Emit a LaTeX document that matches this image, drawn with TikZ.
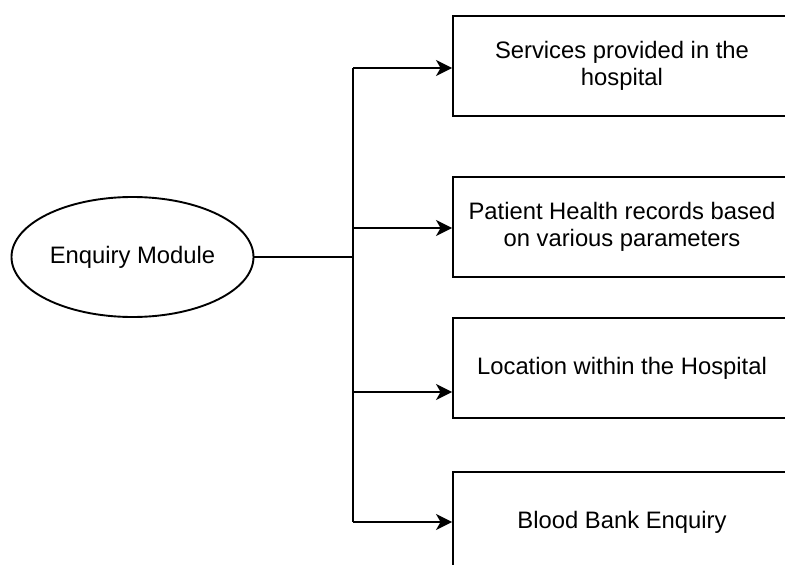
\documentclass[tikz,border=0pt]{standalone}
\usepackage{fontspec}
\setmainfont{Liberation Sans}
\usetikzlibrary{arrows.meta,shapes.geometric}
\begin{document}
\begin{tikzpicture}[x=1pt,y=-1pt,line width=1.9pt,
  label font/.style={font=\fontsize{23.8}{27.5}\selectfont},
  module/.style={draw,ellipse,minimum width=242pt,minimum height=120pt,inner sep=0pt,label font},
  item/.style={draw,rectangle,minimum width=338pt,minimum height=100pt,inner sep=0pt,align=center,label font},
  arr/.style={-{Stealth[length=16pt,width=16pt,inset=4.5pt]}},
]
\useasboundingbox (0,0) rectangle (785,565);
\clip (0,0) rectangle (785,565);

% source module
\node[module] (enq) at (132.5,257) {Enquiry Module};

% enquiry targets
\node[item] (b1) at (622,66)  {Services provided in the\\hospital};
\node[item] (b2) at (622,227) {Patient Health records based\\on various parameters};
\node[item] (b3) at (622,368) {Location within the Hospital};
\node[item] (b4) at (622,522) {Blood Bank Enquiry};

% branch points on the vertical bus
\coordinate (top) at (353,68);
\coordinate (mid) at (353,257);
\coordinate (j2)  at (353,228);
\coordinate (j3)  at (353,392);
\coordinate (bot) at (353,522);

\draw (enq.east) -- (mid);
\draw (top) -- (bot);
\draw[arr] (top) -- (top -| b1.west);
\draw[arr] (j2)  -- (j2 -| b2.west);
\draw[arr] (j3)  -- (j3 -| b3.west);
\draw[arr] (bot) -- (bot -| b4.west);
\end{tikzpicture}
\end{document}
